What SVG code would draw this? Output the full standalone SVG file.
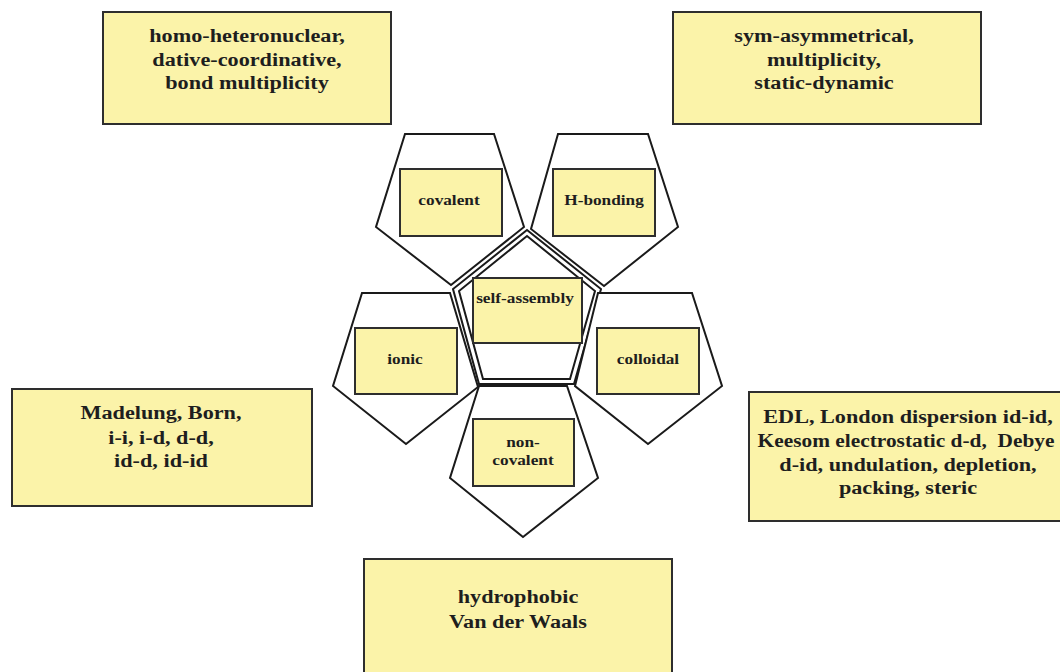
<svg xmlns="http://www.w3.org/2000/svg" width="1060" height="672" viewBox="0 0 1060 672">
<style>
.box{fill:#FBF3A9;stroke:#2e2e2e;stroke-width:2}
.pent{fill:#fff;stroke:#1a1a1a;stroke-width:2;stroke-linejoin:miter}
text{font-family:"Liberation Serif","Times New Roman","DejaVu Serif",serif;font-weight:bold;fill:#1e1e1e;text-anchor:middle}
.big{font-size:19px}
.small{font-size:15px}
</style>
<rect width="1060" height="672" fill="#fff"/>
<g id="connectors"></g>
<g id="box-covalent-props">
<rect class="box" x="103" y="12" width="288" height="112"/>
<text class="big" transform="translate(247 42) scale(1.17 1)">homo-heteronuclear,</text>
<text class="big" transform="translate(247 66) scale(1.17 1)">dative-coordinative,</text>
<text class="big" transform="translate(247 89) scale(1.17 1)">bond multiplicity</text>
</g>
<g id="box-hbond-props">
<rect class="box" x="673" y="12" width="308" height="112"/>
<text class="big" transform="translate(824 42) scale(1.17 1)">sym-asymmetrical,</text>
<text class="big" transform="translate(824 66) scale(1.17 1)">multiplicity,</text>
<text class="big" transform="translate(824 89) scale(1.17 1)">static-dynamic</text>
</g>
<g id="box-ionic-props">
<rect class="box" x="12" y="389" width="300" height="117"/>
<text class="big" transform="translate(161 419) scale(1.17 1)">Madelung, Born,</text>
<text class="big" transform="translate(161 444) scale(1.17 1)">i-i, i-d, d-d,</text>
<text class="big" transform="translate(161 467) scale(1.17 1)">id-d, id-id</text>
</g>
<g id="box-colloidal-props">
<rect class="box" x="749" y="392" width="322" height="129"/>
<text class="big" transform="translate(908 423) scale(1.17 1)">EDL, London dispersion id-id,</text>
<text class="big" transform="translate(906 447) scale(1.125 1)" xml:space="preserve">Keesom electrostatic d-d,  Debye</text>
<text class="big" transform="translate(908 471) scale(1.17 1)">d-id, undulation, depletion,</text>
<text class="big" transform="translate(908 494) scale(1.17 1)">packing, steric</text>
</g>
<g id="box-noncovalent-props">
<rect class="box" x="364" y="559" width="308" height="130"/>
<text class="big" transform="translate(518 603) scale(1.17 1)">hydrophobic</text>
<text class="big" transform="translate(518 628) scale(1.17 1)">Van der Waals</text>
</g>
<g id="node-self-assembly">
<polygon class="pent" points="527,230 601,289 574,384 479,384 453,289"/>
<polygon class="pent" points="527,236 595,291 570,379 483,379 459,291"/>
<rect class="box" x="473" y="278" width="109" height="65"/>
<text class="small" transform="translate(525 303) scale(1.15 1)">self-assembly</text>
</g>
<g id="node-covalent">
<polygon class="pent" points="405,134 494,134 524,227 451,285 376,227"/>
<rect class="box" x="400" y="169" width="102" height="67"/>
<text class="small" transform="translate(449 205) scale(1.15 1)">covalent</text>
</g>
<g id="node-h-bonding">
<polygon class="pent" points="558,134 648,134 678,227 604,286 531,229"/>
<rect class="box" x="553" y="169" width="102" height="67"/>
<text class="small" transform="translate(604 205) scale(1.15 1)">H-bonding</text>
</g>
<g id="node-ionic">
<polygon class="pent" points="362,293 450,293 478,387 406,444 333,386"/>
<rect class="box" x="355" y="328" width="102" height="66"/>
<text class="small" transform="translate(405 364) scale(1.15 1)">ionic</text>
</g>
<g id="node-colloidal">
<polygon class="pent" points="598,293 692,293 722,386 648,444 575,386"/>
<rect class="box" x="597" y="328" width="102" height="66"/>
<text class="small" transform="translate(648 364) scale(1.15 1)">colloidal</text>
</g>
<g id="node-non-covalent">
<polygon class="pent" points="479,386 567,386 598,478 523,537 450,478"/>
<rect class="box" x="473" y="419" width="101" height="67"/>
<text class="small" transform="translate(523 447) scale(1.15 1)">non-</text>
<text class="small" transform="translate(523 465) scale(1.15 1)">covalent</text>
</g>
</svg>
